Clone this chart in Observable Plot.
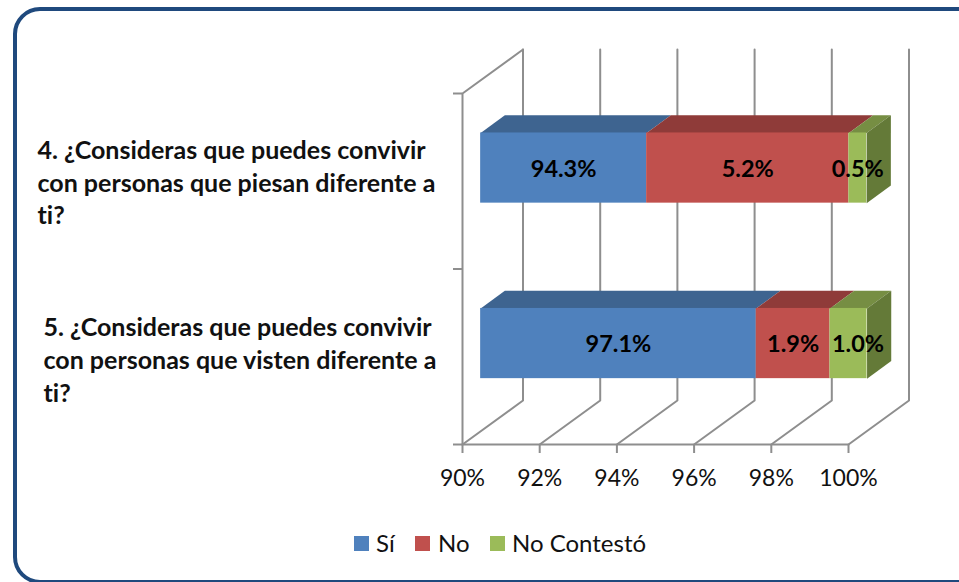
<!DOCTYPE html>
<html lang="es">
<head>
<meta charset="utf-8">
<script src="https://cdn.jsdelivr.net/npm/d3@7"></script>
<script src="https://cdn.jsdelivr.net/npm/@observablehq/plot@0.6"></script>
<style>
html,body{margin:0;padding:0;background:#fff;width:959px;height:582px;overflow:hidden;font-family:Lato,sans-serif;font-variant-ligatures:none;}
#frame{position:absolute;left:13px;top:7px;width:1000px;height:569px;border:4.5px solid #1f497d;border-radius:27px;box-sizing:content-box;}
#chart{position:absolute;left:0;top:0;}
#legend{position:absolute;left:0;top:525px;width:959px;height:40px;font-size:24px;color:#111;}
#legend span{position:absolute;top:3px;line-height:30px;white-space:nowrap;}
#legend i{position:absolute;top:11px;width:15px;height:15px;display:block;}
</style>
</head>
<body>
<div id="frame"></div>
<div id="chart"></div>
<div id="legend"></div>
<script>
const categories = [
  "5. ¿Consideras que puedes convivir\ncon personas que visten diferente a\nti?",
  "4. ¿Consideras que puedes convivir\ncon personas que piesan diferente a\nti?"
];
const seriesNames = ["Sí", "No", "No Contestó"];
const si = [97.14, 94.30];
const no = [1.91, 5.24];
const noContesto = [0.96, 0.46];
const xTicks = [90, 92, 94, 96, 98, 100];
const frontColors = ["#4f81bd", "#c0504d", "#9bbb59"];
const topColors = ["#3e6490", "#8f3b39", "#768e43"];
const sideColor = "#647a38";
const gridColor = "#8e8e8e";

// oblique projection: depth 0 = front plane, depth 1 = back wall
const depthX = 60.5 / 38.6, depthY = 44 / 175.5;
const px = (x, d) => x + depthX * d;
const py = (y, d) => y + depthY * d;
const near = 0.3, far = 0.7, half = 0.2;
const base = 90;

const allValues = [si, no, noContesto];
const fronts = [], tops = [], sides = [], labels = [];
categories.forEach((c, i) => {
  let start = base;
  const yc = i + 0.5;
  allValues.forEach((vals, s) => {
    const stop = start + (s === 0 ? vals[i] - base : vals[i]);
    fronts.push({series: seriesNames[s], x1: px(start, near), x2: px(stop, near), y1: py(yc - half, near), y2: py(yc + half, near)});
    const id = `${i}-${s}`;
    [[start, near], [stop, near], [stop, far], [start, far]].forEach(([x, d]) =>
      tops.push({id, s, x: px(x, d), y: py(yc + half, d)}));
    if (s === 2) {
      [[yc - half, near], [yc + half, near], [yc + half, far], [yc - half, far]].forEach(([y, d]) =>
        sides.push({id, x: px(stop, d), y: py(y, d)}));
    }
    labels.push({i, s, x: px((start + stop) / 2, near), y: py(yc, near), text: vals[i].toFixed(1) + "%"});
    start = stop;
  });
});

// floor + back wall lines for each gridline
const grid = [];
xTicks.forEach(t => {
  grid.push({id: t, x: t, y: 0}, {id: t, x: px(t, 1), y: py(0, 1)}, {id: t, x: px(t, 1), y: py(2, 1)});
});
const wall = [{x: 90, y: 0}, {x: 90, y: 2}, {x: px(90, 1), y: py(2, 1)}];
const floor = [{x: 90, y: 0}, {x: 100, y: 0}];

const catRows = categories.map((c, i) => ({c, i, x: 90, y: i + 0.5}));
const labelStyle = {x: "x", y: "y", text: "text", fontSize: 23.5, fontWeight: 700, fill: "#000", lineAnchor: "middle", dy: 1};

const plot = Plot.plot({
  width: 959, height: 525,
  marginLeft: 462, marginRight: 111, marginTop: 93, marginBottom: 81,
  x: {domain: [90, 100]},
  y: {domain: [0, 2]},
  color: {domain: seriesNames, range: frontColors},
  style: {fontFamily: "Lato, sans-serif", background: "transparent", overflow: "visible", fontVariantLigatures: "none"},
  marks: [
    Plot.line(grid, {x: "x", y: "y", z: "id", stroke: gridColor, strokeWidth: 2}),
    Plot.line(wall, {x: "x", y: "y", stroke: gridColor, strokeWidth: 2}),
    Plot.line(floor, {x: "x", y: "y", stroke: gridColor, strokeWidth: 2}),
    Plot.axisX({ticks: xTicks, anchor: "bottom", label: null, tickFormat: d => d + "%", tickSize: 9, tickPadding: 16, stroke: gridColor, strokeWidth: 2, fill: "#111", fontSize: 23}),
    Plot.axisY({ticks: [0, 1, 2], anchor: "left", label: null, tickFormat: () => "", tickSize: 9, stroke: gridColor, strokeWidth: 2}),
    ...topColors.map((col, s) => Plot.line(tops.filter(d => d.s === s), {x: "x", y: "y", z: "id", fill: col, stroke: "none"})),
    Plot.line(sides, {x: "x", y: "y", z: "id", fill: sideColor, stroke: "none"}),
    Plot.rect(fronts, {x1: "x1", x2: "x2", y1: "y1", y2: "y2", fill: "series"}),
    Plot.text(labels.filter(d => !(d.i === 0 && d.s === 2)), labelStyle),
    Plot.text(labels.filter(d => d.i === 0 && d.s === 2), {...labelStyle, dx: 9.5}),
    Plot.text(catRows.filter(d => d.i === 1), {x: "x", y: "y", text: "c", textAnchor: "start", dx: -425, dy: 0, fontSize: 25, fontWeight: 700, fill: "#111", lineHeight: 1.31, lineAnchor: "middle"}),
    Plot.text(catRows.filter(d => d.i === 0), {x: "x", y: "y", text: "c", textAnchor: "start", dx: -419, dy: 2, fontSize: 25, fontWeight: 700, fill: "#111", lineHeight: 1.31, lineAnchor: "middle"})
  ]
});
document.getElementById("chart").appendChild(plot);

const legendSwatchX = [354, 415, 490];
const legendTextX = [376, 438, 512];
const legend = document.getElementById("legend");
seriesNames.forEach((n, i) => {
  const sw = document.createElement("i");
  sw.style.left = legendSwatchX[i] + "px";
  sw.style.background = frontColors[i];
  legend.appendChild(sw);
  const t = document.createElement("span");
  t.style.left = legendTextX[i] + "px";
  t.textContent = n;
  legend.appendChild(t);
});
</script>
</body>
</html>
